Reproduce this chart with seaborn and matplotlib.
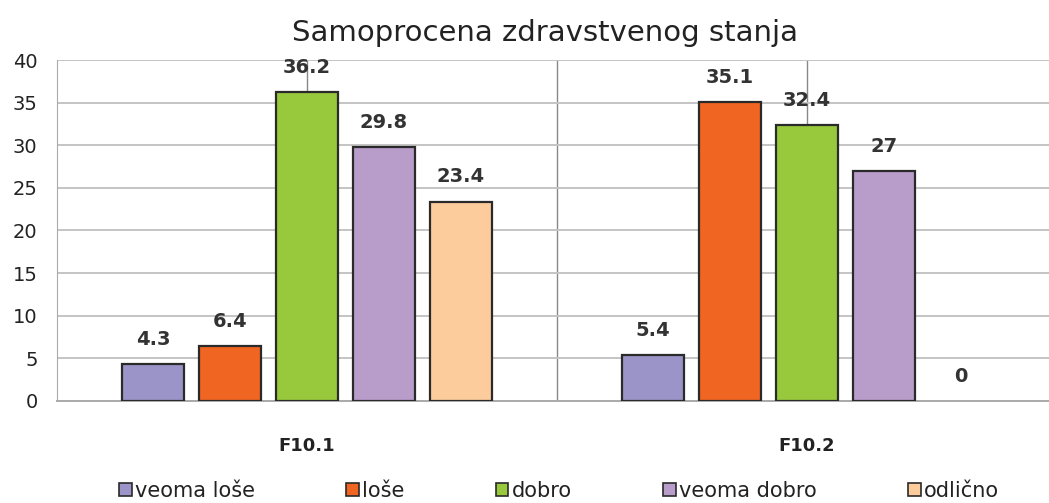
import seaborn as sns
import pandas as pd
import matplotlib.pyplot as plt
from matplotlib.patches import Patch

groups = ['F10.1', 'F10.2']
categories = ['veoma loše', 'loše', 'dobro', 'veoma dobro', 'odlično']
f101 = [4.3, 6.4, 36.2, 29.8, 23.4]
f102 = [5.4, 35.1, 32.4, 27, 0]
colors = ['#9a94c8', '#f06522', '#98c83c', '#b89dca', '#fdcc9c']

rows = []
for g, vals in zip(groups, [f101, f102]):
    for c, v in zip(categories, vals):
        rows.append({'grupa': g, 'ocena': c, 'procenat': v})
df = pd.DataFrame(rows)

sns.set_style('white')
plt.rcParams['font.family'] = ['DejaVu Sans']

fig = plt.figure(figsize=(10.49, 5.03), dpi=100)
ax = fig.add_axes([0.0543, 0.2028, 0.9457, 0.6779])

sns.barplot(data=df, x='grupa', y='procenat', hue='ocena', order=groups,
            hue_order=categories, palette=dict(zip(categories, colors)),
            saturation=1, width=0.77, gap=0.2, edgecolor='#2a2a2a',
            linewidth=1.6, legend=False, ax=ax, zorder=3)

# bar labels, no outline on the empty bar
for cont in ax.containers:
    for b in cont:
        if b.get_height() == 0:
            b.set_linewidth(0)
    ax.bar_label(cont, labels=['%g' % b.get_height() for b in cont],
                 padding=11, fontsize=14, fontweight='bold', color='#333333')

ax.set_xlim(-0.5, 1.484)
ax.set_ylim(0, 40)
ax.set_yticks(range(0, 41, 5))
ax.grid(axis='y', color='#c4c4c4', linewidth=1.4, zorder=0)
ax.grid(axis='x', color='#888888', linewidth=1.0, zorder=0)
ax.axvline(0.5, color='#888888', linewidth=1.0, zorder=0)
ax.set_axisbelow(True)

for s in ['top', 'right']:
    ax.spines[s].set_visible(False)
ax.spines['left'].set_color('#aaaaaa')
ax.spines['bottom'].set_color('#aaaaaa')
ax.spines['bottom'].set_linewidth(1.4)

ax.tick_params(axis='y', length=0, pad=14, labelsize=14, labelcolor='#222222')
ax.tick_params(axis='x', length=0, pad=26, labelsize=13, labelcolor='#222222')
for t in ax.get_xticklabels():
    t.set_fontweight('bold')
ax.set_xlabel('')
ax.set_ylabel('')

fig.text(0.52, 1 - 33 / 503, 'Samoprocena zdravstvenog stanja', ha='center',
         va='center', fontsize=21, color='#222222')

handles = [Patch(facecolor=c, edgecolor='#2a2a2a', linewidth=1.2) for c in colors]
fig.legend(handles, categories, loc='center', bbox_to_anchor=(0.533, 1 - 491 / 503),
           ncol=5, frameon=False, fontsize=15, handlelength=0.6, handleheight=0.6,
           handletextpad=0.15, columnspacing=4.4, labelcolor='#222222')

fig.savefig('out.png', dpi=100)
